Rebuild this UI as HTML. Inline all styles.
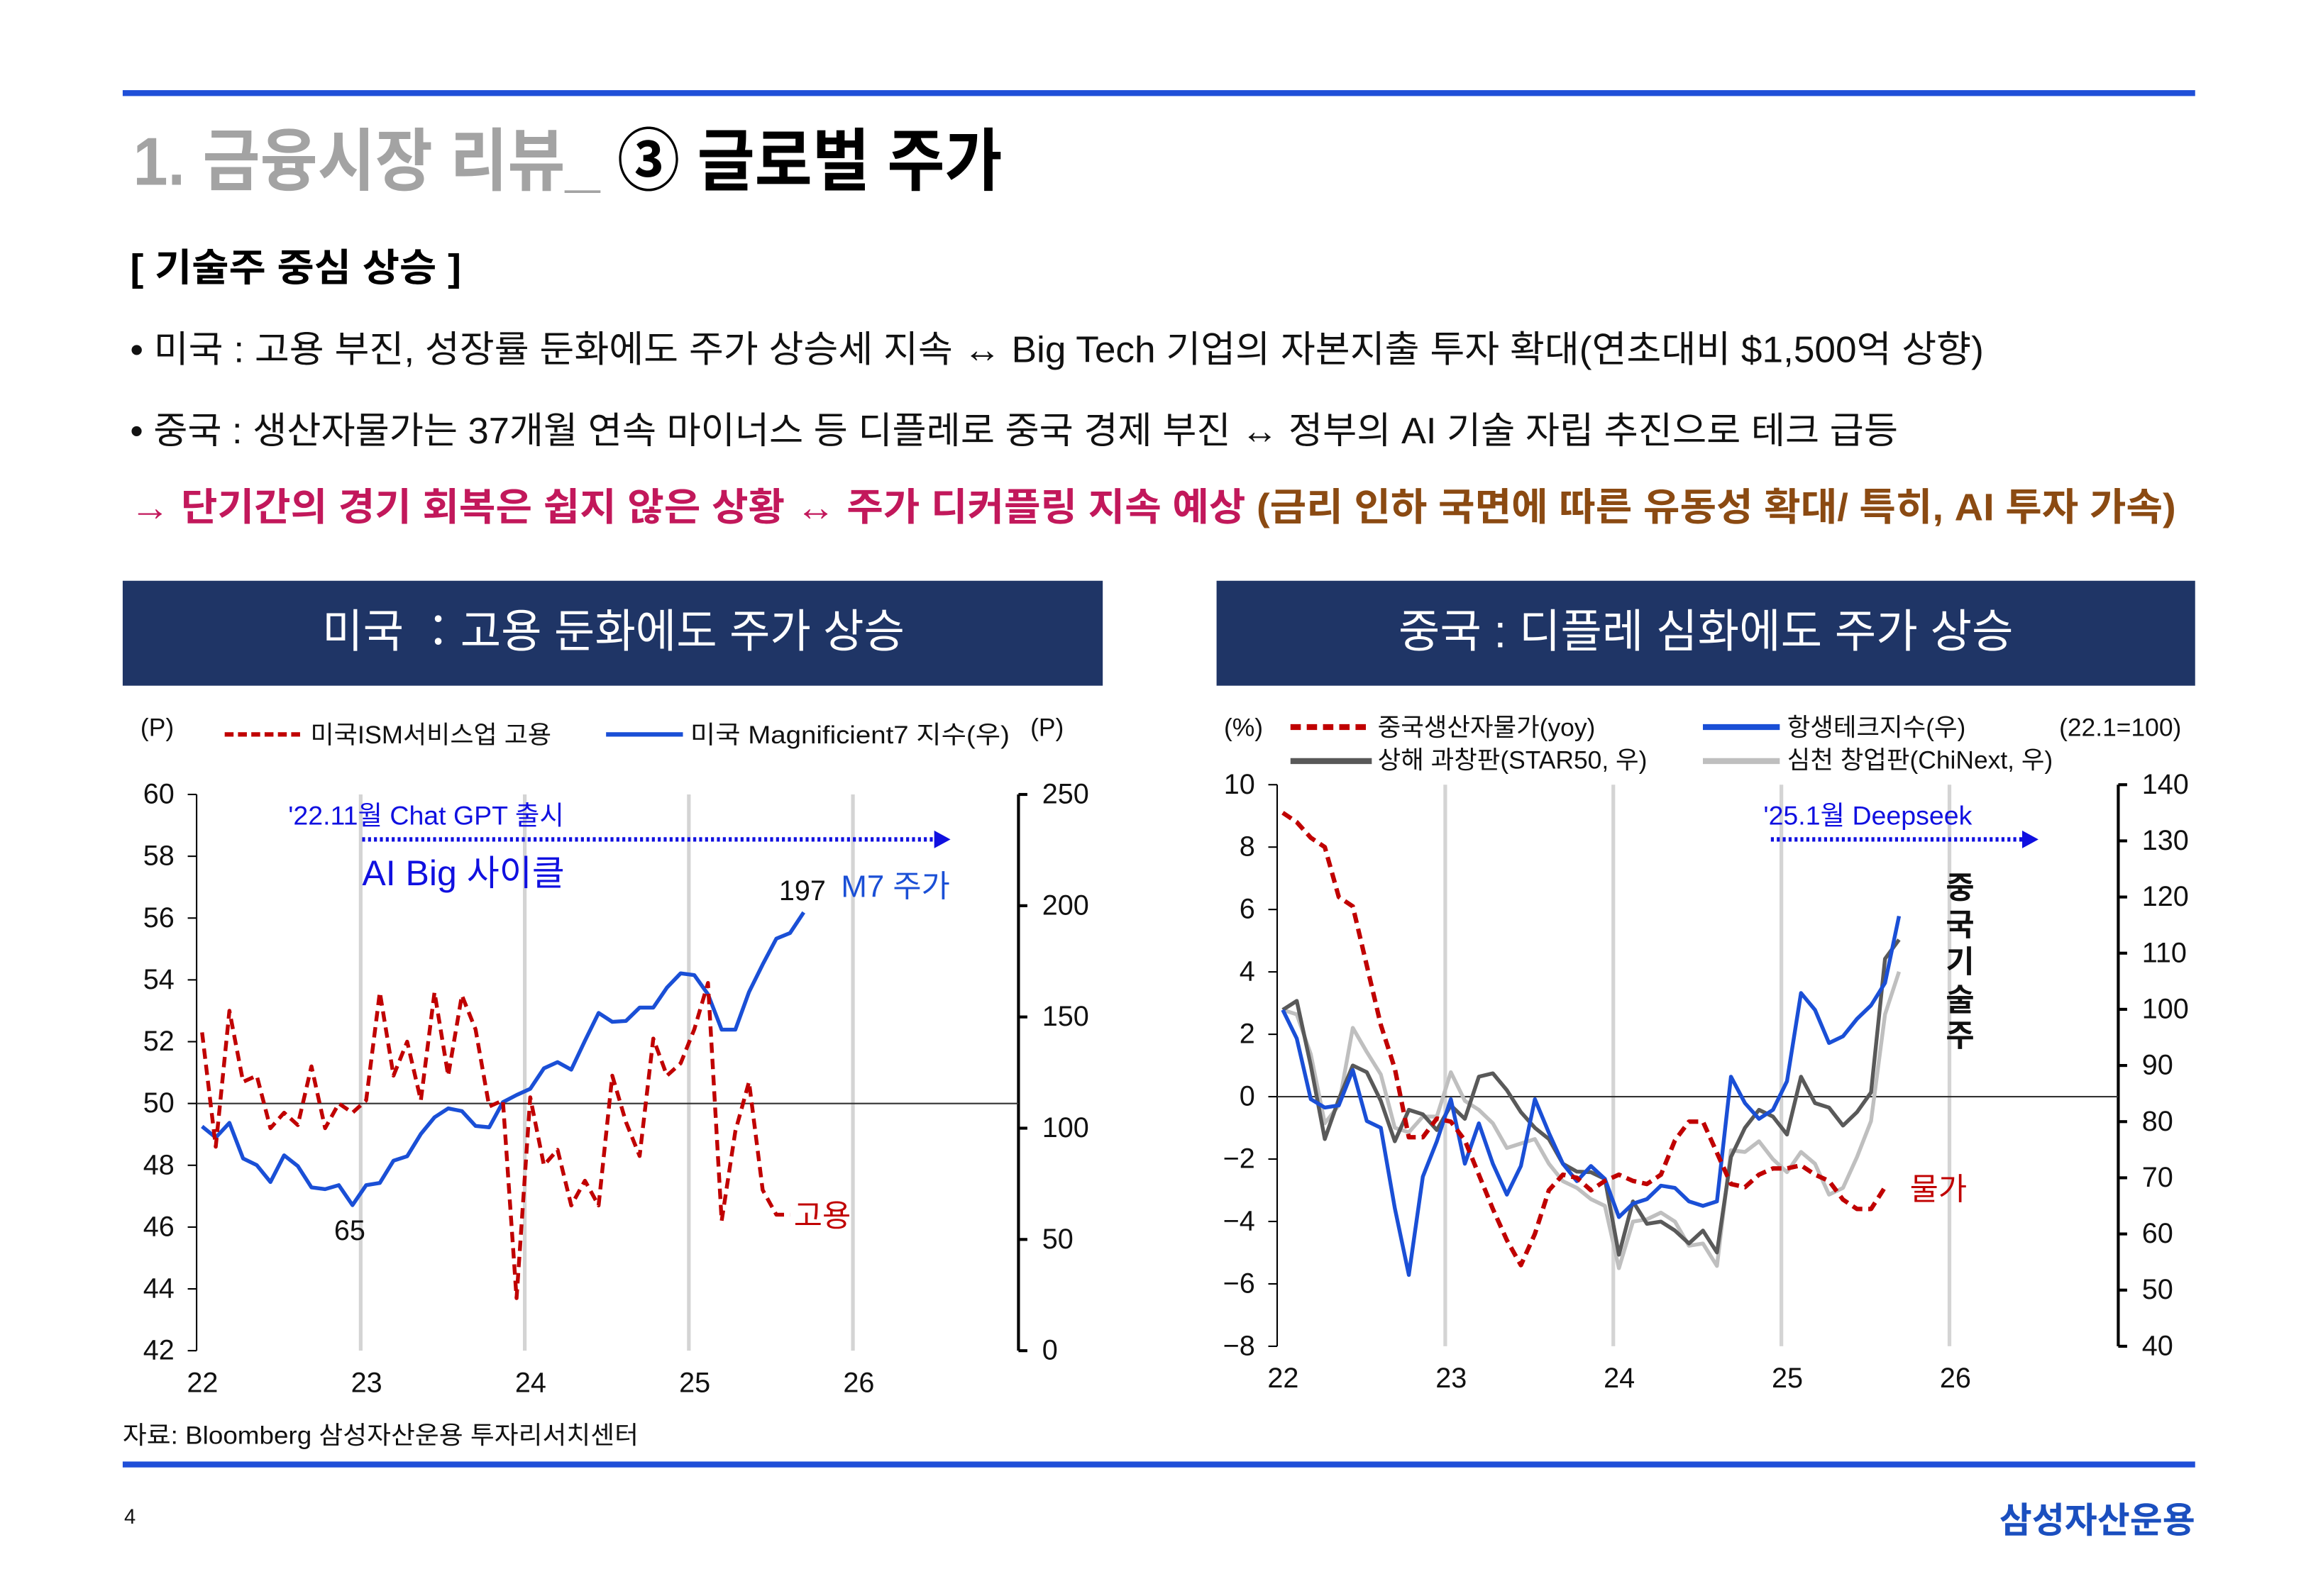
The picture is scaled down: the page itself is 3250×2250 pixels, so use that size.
<!DOCTYPE html>
<html><head><meta charset="utf-8">
<style>
html,body{margin:0;padding:0;background:#fff;}
svg{display:block;font-family:"Liberation Sans","Noto Sans CJK KR",sans-serif;}
</style></head>
<body>
<svg id="pg" width="3250" height="2250" viewBox="0 0 1560 1080" xmlns="http://www.w3.org/2000/svg">
<rect x="0" y="0" width="1560" height="1080" fill="#fff"/>
<rect x="83" y="61" width="1402" height="4" fill="#1f4fd8"/>
<text x="90" y="125" font-size="46" font-weight="bold" textLength="588" lengthAdjust="spacingAndGlyphs"><tspan fill="#a3a3a3">1. 금융시장 리뷰_</tspan><tspan fill="#000"> ③ 글로벌 주가</tspan></text>
<text x="88" y="190" font-size="26" font-weight="bold" fill="#000" textLength="224" lengthAdjust="spacingAndGlyphs">[ 기술주 중심 상승 ]</text>
<text x="88" y="245" font-size="25" fill="#111" textLength="1254" lengthAdjust="spacingAndGlyphs">• 미국 : 고용 부진, 성장률 둔화에도 주가 상승세 지속 ↔  Big Tech 기업의 자본지출 투자 확대(연초대비 $1,500억 상향)</text>
<text x="88" y="300" font-size="25" fill="#111" textLength="1196" lengthAdjust="spacingAndGlyphs">• 중국 : 생산자물가는 37개월 연속 마이너스 등 디플레로  중국 경제 부진 ↔ 정부의 AI 기술 자립 추진으로 테크 급등</text>
<text x="88" y="352" font-size="26" font-weight="bold" textLength="1384" lengthAdjust="spacingAndGlyphs"><tspan fill="#c2185b">→ 단기간의 경기 회복은 쉽지 않은 상황 ↔ 주가 디커플링 지속 예상 </tspan><tspan fill="#8b4a12">(금리 인하 국면에 따른 유동성 확대/ 특히, AI 투자 가속)</tspan></text>

<rect x="83" y="393" width="663" height="71" fill="#1f3566"/>
<text x="218" y="438" font-size="31" fill="#fff" textLength="394" lengthAdjust="spacingAndGlyphs">미국 ：고용 둔화에도 주가 상승</text>
<rect x="823" y="393" width="662" height="71" fill="#1f3566"/>
<text x="946" y="438" font-size="31" fill="#fff" textLength="416" lengthAdjust="spacingAndGlyphs">중국 : 디플레 심화에도 주가 상승</text>

<g id="left"></g>
<g id="right"></g>

<text x="83" y="977" font-size="17" fill="#111" textLength="349" lengthAdjust="spacingAndGlyphs">자료: Bloomberg 삼성자산운용 투자리서치센터</text>
<rect x="83" y="989" width="1402" height="4" fill="#1f4fd8"/>
<text x="84" y="1031" font-size="14" fill="#111">4</text>
<text x="1485" y="1037" font-size="24" font-weight="bold" fill="#1b4fbf" text-anchor="end">삼성자산운용</text>
</svg>
<script>
// ---- US chart data ----
const usYears = ["22","23","24","25","26"];
const usLeftTicks = [60,58,56,54,52,50,48,46,44,42];
const usRightTicks = [250,200,150,100,50,0];
const ismEmployment = [52.3,48.6,53.0,50.7,50.9,49.2,49.7,49.3,51.2,49.2,50.0,49.7,50.1,53.6,50.9,52.0,50.1,53.6,50.9,53.5,52.4,49.9,50.1,43.7,50.2,48.0,48.5,46.7,47.5,46.7,50.9,49.4,48.3,52.1,50.9,51.3,52.4,53.9,46.2,49.1,50.7,47.2,46.4,46.4];
const m7Index = [100.8,95.8,102.4,86.4,83.4,75.8,87.8,83.0,73.4,72.6,74.4,65.4,74.4,75.4,85.4,87.4,97.4,104.9,108.9,107.7,101,100.4,111.7,114.9,117.7,126.9,129.7,126.3,139.3,151.8,147.8,148.2,154.2,154.2,163.2,169.6,168.8,160.2,144.3,144.3,161.2,173.6,185.2,187.7,197];
// ---- China chart data ----
const cnYears = ["22","23","24","25","26"];
const cnLeftTicks = [10,8,6,4,2,0,-2,-4,-6,-8];
const cnRightTicks = [140,130,120,110,100,90,80,70,60,50,40];
const chinaPPI = [9.1,8.8,8.3,8.0,6.4,6.1,4.2,2.3,0.9,-1.3,-1.3,-0.7,-0.8,-1.4,-2.5,-3.6,-4.6,-5.4,-4.4,-3.0,-2.5,-2.6,-3.0,-2.7,-2.5,-2.7,-2.8,-2.5,-1.4,-0.8,-0.8,-1.8,-2.8,-2.9,-2.5,-2.3,-2.3,-2.2,-2.5,-2.7,-3.3,-3.6,-3.6,-2.9];
const hangSengTech = [99.9,94.8,84,82.5,82.9,89.2,80.1,78.9,64.6,52.7,70.2,76.5,84,72.5,79.7,72.5,67,72.1,84,78,72.5,69.4,72.1,69.8,63,65.4,66.2,68.6,68.2,65.8,65,65.8,88,83.3,80.5,82.1,87.2,102.9,99.9,94,95.2,98.3,100.7,104.7,116.6];
const star50 = [99.9,101.5,90,76.9,84,90,88.8,83.7,76.5,82.1,81.3,78.5,82.9,80.5,88,88.6,85.6,81.7,78.9,76.9,72.5,71.1,71,69.8,56.3,65.8,61.8,62.2,60.6,58.3,60.6,56.7,73.7,78.9,82.1,80.9,77.7,88,83.3,82.5,79.3,81.7,85.2,109,112.4];
const chiNext = [99.9,99.1,92,79.7,82.9,96.7,92.4,88.4,78.9,78.1,80.9,80.9,88.8,83.7,82.1,79.7,75.3,76.1,76.9,72.5,69.4,68.2,66.2,65,53.9,62.2,62.6,63.8,62.2,57.9,58.3,54.3,74.9,74.6,76.5,73.3,71,74.6,72.5,67,68.2,73.7,80.1,99.1,106.7];

const NS="http://www.w3.org/2000/svg";
function mk(parent,tag,attrs,text){const e=document.createElementNS(NS,tag);for(const k in attrs)e.setAttribute(k,attrs[k]);if(text!==undefined)e.textContent=text;parent.appendChild(e);return e;}

function axes(g,cfg){
  const yL=v=>cfg.top+(cfg.lMax-v)/(cfg.lMax-cfg.lMin)*(cfg.bot-cfg.top);
  const yR=v=>cfg.top+(cfg.rMax-v)/(cfg.rMax-cfg.rMin)*(cfg.bot-cfg.top);
  const xM=i=>cfg.x0+(i+0.4)/12*cfg.yw;
  cfg.years.forEach((yr,k)=>{
    const x=cfg.x0+k*cfg.yw;
    if(k>0){const gl=mk(g,'line',{x1:x,x2:x,y1:cfg.top,y2:cfg.bot,stroke:'#d4d4d4','stroke-width':2.5});
      
      }
    const t=mk(g,'text',{x:x+4,y:cfg.bot+28,'font-size':19,fill:'#111','text-anchor':'middle'},yr);
    
    
  });
  const la=mk(g,'line',{x1:cfg.x0,x2:cfg.x0,y1:cfg.top,y2:cfg.bot,stroke:'#000','stroke-width':1});
  
  
  cfg.lTicks.forEach(v=>{
    const y=yL(v);
    mk(g,'line',{x1:cfg.x0-6,x2:cfg.x0,y1:y,y2:y,stroke:'#000','stroke-width':1});
    const t=mk(g,'text',{x:cfg.x0-15,y:y+6,'font-size':19,fill:'#111','text-anchor':'end'},String(v).replace('-','−'));
    
    
  });
  const ra=mk(g,'line',{x1:cfg.xr,x2:cfg.xr,y1:cfg.top,y2:cfg.bot,stroke:'#000','stroke-width':2});
  
  
  cfg.rTicks.forEach(v=>{
    const y=yR(v);
    mk(g,'line',{x1:cfg.xr,x2:cfg.xr+6,y1:y,y2:y,stroke:'#000','stroke-width':2});
    const t=mk(g,'text',{x:cfg.xr+16,y:y+6,'font-size':19,fill:'#111'},v);
    
    
  });
  const z=yL(cfg.zero);
  const zl=mk(g,'line',{x1:cfg.x0,x2:cfg.xr,y1:z,y2:z,stroke:'#333','stroke-width':1});
  
  
  return {yL,yR,xM};
}
function series(g,arr,xf,yf,attrs,name){
  const d=arr.map((v,i)=>(i?'L':'M')+xf(i).toFixed(2)+','+yf(v).toFixed(2)).join(' ');
  const p=mk(g,'path',Object.assign({d:d,fill:'none','stroke-linejoin':'round'},attrs));
  
  
  return p;
}

const L=document.getElementById('left');
const la=axes(L,{x0:133,yw:111,xr:689,top:537.6,bot:914,lMax:60,lMin:42,rMax:250,rMin:0,years:usYears,lTicks:usLeftTicks,rTicks:usRightTicks,zero:50});
series(L,m7Index,la.xM,la.yR,{stroke:'#1a4fd6','stroke-width':2.6},'m7-index-line');
series(L,ismEmployment,la.xM,la.yL,{stroke:'#c00000','stroke-width':2.6,'stroke-dasharray':'7 4'},'ism-employment-line');

const R=document.getElementById('right');
const ra=axes(R,{x0:864,yw:113.7,xr:1433,top:531,bot:911,lMax:10,lMin:-8,rMax:140,rMin:40,years:cnYears,lTicks:cnLeftTicks,rTicks:cnRightTicks,zero:0});
series(R,chiNext,ra.xM,ra.yR,{stroke:'#bfbfbf','stroke-width':2.6},'chinext-line');
series(R,star50,ra.xM,ra.yR,{stroke:'#595959','stroke-width':2.6},'star50-line');
series(R,hangSengTech,ra.xM,ra.yR,{stroke:'#1a4fd6','stroke-width':2.6},'hang-seng-tech-line');
series(R,chinaPPI,ra.xM,ra.yL,{stroke:'#c00000','stroke-width':3,'stroke-dasharray':'7 4'},'china-ppi-line');
</script>

<svg style="position:absolute;left:0;top:0" width="3250" height="2250" viewBox="0 0 1560 1080" xmlns="http://www.w3.org/2000/svg">
<g font-family="Liberation Sans, Noto Sans CJK KR, sans-serif">
<text x="95" y="498" font-size="17" fill="#111">(P)</text>
<line x1="152" x2="206" y1="497" y2="497" stroke="#c00000" stroke-width="3" stroke-dasharray="6 3"/>
<text x="210" y="503" font-size="17" fill="#111" textLength="163" lengthAdjust="spacingAndGlyphs">미국ISM서비스업 고용</text>
<line x1="410" x2="462" y1="497" y2="497" stroke="#1a4fd6" stroke-width="3"/>
<text x="467" y="503" font-size="17" fill="#111" textLength="216" lengthAdjust="spacingAndGlyphs">미국 Magnificient7 지수(우)</text>
<text x="697" y="498" font-size="17" fill="#111">(P)</text>
<text x="195" y="558" font-size="18" fill="#1010e0">'22.11월 Chat GPT 출시</text>
<line x1="245" x2="632" y1="568" y2="568" stroke="#1010e0" stroke-width="3" stroke-dasharray="2 2"/>
<polygon points="632,562 643,568 632,574" fill="#1010e0"/>
<text x="245" y="599" font-size="24" fill="#1010e0">AI Big 사이클</text>
<text x="527" y="609" font-size="19" fill="#111">197</text>
<text x="569" y="607" font-size="21" fill="#1a4fd6">M7 주가</text>
<text x="226" y="839" font-size="19" fill="#111">65</text>
<text x="537" y="830" font-size="21" fill="#c00000">고용</text>
<text x="828" y="498" font-size="17" fill="#111">(%)</text>
<line x1="873" x2="928" y1="492" y2="492" stroke="#c00000" stroke-width="4" stroke-dasharray="7 4"/>
<text x="932" y="498" font-size="17" fill="#111">중국생산자물가(yoy)</text>
<line x1="873" x2="928" y1="515" y2="515" stroke="#595959" stroke-width="4"/>
<text x="932" y="520" font-size="17" fill="#111">상해 과창판(STAR50, 우)</text>
<line x1="1152" x2="1204" y1="492" y2="492" stroke="#1a4fd6" stroke-width="4"/>
<text x="1209" y="498" font-size="17" fill="#111">항생테크지수(우)</text>
<line x1="1152" x2="1204" y1="515" y2="515" stroke="#bfbfbf" stroke-width="4"/>
<text x="1209" y="520" font-size="17" fill="#111">심천 창업판(ChiNext, 우)</text>
<text x="1393" y="498" font-size="17" fill="#111">(22.1=100)</text>
<text x="1193" y="558" font-size="18" fill="#1010e0">'25.1월 Deepseek</text>
<line x1="1198" x2="1368" y1="568" y2="568" stroke="#1010e0" stroke-width="3" stroke-dasharray="2 2"/>
<polygon points="1368,562 1379,568 1368,574" fill="#1010e0"/>
<text x="1326" y="608" font-size="21" font-weight="bold" fill="#111" text-anchor="middle"><tspan x="1326" y="608">중</tspan><tspan x="1326" y="633">국</tspan><tspan x="1326" y="658">기</tspan><tspan x="1326" y="684">술</tspan><tspan x="1326" y="708">주</tspan></text>
<text x="1292" y="812" font-size="21" fill="#c00000">물가</text>
</g>
</svg>
</body></html>
